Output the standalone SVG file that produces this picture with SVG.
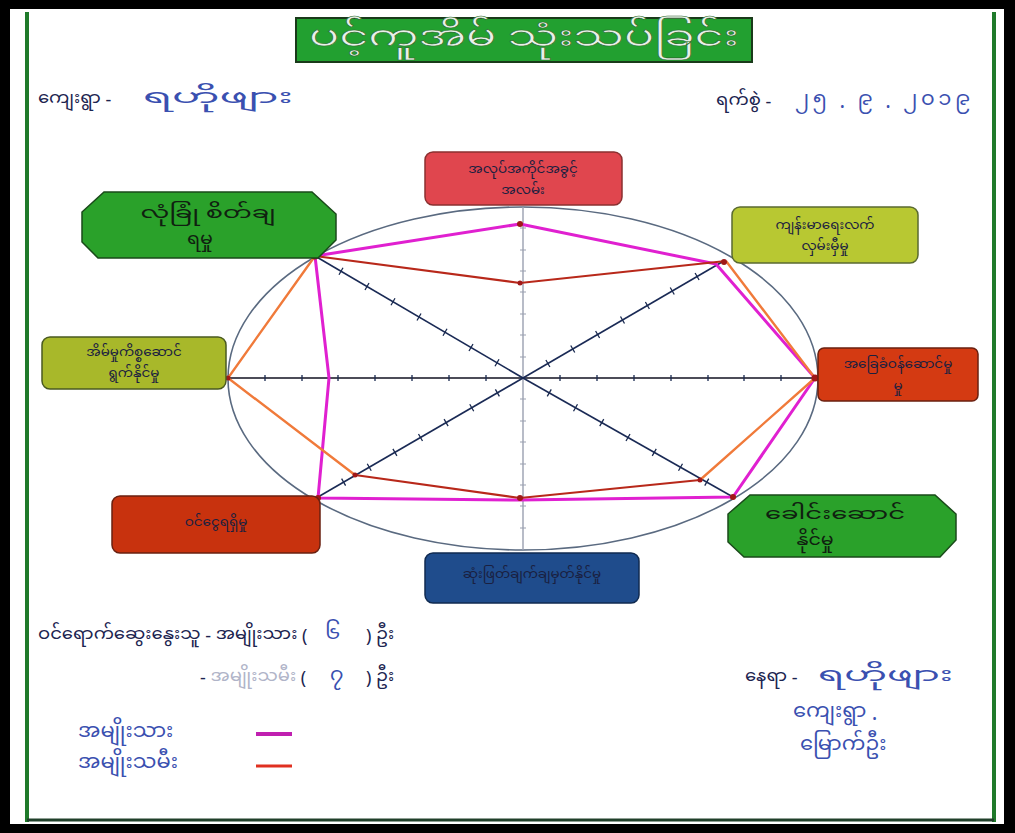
<svg xmlns="http://www.w3.org/2000/svg" width="1015" height="833" viewBox="0 0 1015 833">
<style>
.my{font-family:"Noto Sans Myanmar UI","Noto Sans Myanmar","Padauk","Myanmar Text","Noto Sans","DejaVu Sans",sans-serif}
.lbl{fill:#1a2040;font-size:13.5px;text-anchor:middle}
.big{fill:#102010;font-size:19px;text-anchor:middle}
.hd{fill:#1c2450;font-size:18px}
.hv{fill:#3a50b0;font-size:21px}
.tick{stroke:#1a2a50;stroke-width:1.3;fill:none}
.diag{stroke:#1a2a55;stroke-width:1.6}
.men{stroke:#e020d0;stroke-width:3;fill:none;stroke-linejoin:round}
.wred{stroke:#b8281a;stroke-width:2.2;fill:none}
.wor{stroke:#f07a3a;stroke-width:2.4;fill:none}
.dot{fill:#a01818}
</style>
<rect x="0" y="0" width="1015" height="833" fill="#000"/>
<rect x="10" y="9" width="994" height="815" fill="#fff"/>
<line x1="27" y1="12" x2="27" y2="822" stroke="#1f7a2a" stroke-width="4"/>
<line x1="994" y1="12" x2="994" y2="822" stroke="#1f7a2a" stroke-width="4"/>
<line x1="27" y1="820" x2="994" y2="820" stroke="#20402a" stroke-width="3"/>

<g id="title">
<rect x="296" y="18" width="456" height="44" fill="#22a030" stroke="#1a3a1a" stroke-width="2"/>
<text class="my" x="309" y="51" font-size="32" textLength="430" lengthAdjust="spacingAndGlyphs" fill="#e8f0e8" stroke="#2a6a2a" stroke-width="0.6">ပင့်ကူအိမ် သုံးသပ်ခြင်း</text>
</g>

<g id="header">
<text class="my hd" x="38" y="106">ကျေးရွာ -</text>
<text class="my hv" x="143" y="106" textLength="150" lengthAdjust="spacingAndGlyphs">ရဟိုဖျား</text>
<text class="my hd" x="716" y="108">ရက်စွဲ -</text>
<text class="my hv" x="795" y="108" font-size="23" textLength="175">၂၅ . ၉ . ၂၀၁၉</text>
</g>

<g id="chart-frame">
<ellipse cx="523" cy="378.5" rx="295" ry="171.5" fill="none" stroke="#5a6a80" stroke-width="1.6"/>
<line x1="228" y1="378" x2="818" y2="378" stroke="#101020" stroke-width="1.4"/>
<line x1="523" y1="207" x2="523" y2="550" stroke="#9aa0b0" stroke-width="1.4"/>
<line class="diag" x1="523" y1="378" x2="315" y2="256"/>
<line class="diag" x1="523" y1="378" x2="722" y2="262"/>
<line class="diag" x1="523" y1="378" x2="733" y2="497"/>
<line class="diag" x1="523" y1="378" x2="318" y2="497"/>
<path class="tick" d="M495,366.25L499,359.25M469,351L473,344M443,335.75L447,328.75M417,320.5L421,313.5M391,305.25L395,298.25M365,290L369,283M339,274.75L343,267.75
M545.9,360L549.9,367M570.75,345.5L574.75,352.5M595.6,331L599.6,338M620.5,316.5L624.5,323.5M645.4,302L649.4,309M670.25,287.5L674.25,294.5M695.1,273L699.1,280
M547.25,396.4L551.25,389.4M573.5,411.25L577.5,404.25M599.75,426.1L603.75,419.1M626,441L630,434M652.25,455.9L656.25,448.9M678.5,470.75L682.5,463.75M704.75,485.6L708.75,478.6
M495.4,389.4L499.4,396.4M469.75,404.25L473.75,411.25M444.1,419.1L448.1,426.1M418.5,434L422.5,441M392.9,448.9L396.9,455.9M367.25,463.75L371.25,470.75M341.6,478.6L345.6,485.6
M560,375V381M597,375V381M634,375V381M671,375V381M708,375V381M744,375V381M781,375V381M486,375V381M449,375V381M412,375V381M375,375V381M338,375V381M302,375V381M265,375V381"/>
<path d="M520,357H526M520,335H526M520,314H526M520,292H526M520,271H526M520,250H526M520,228H526M520,399H526M520,421H526M520,442H526M520,464H526M520,485H526M520,506H526M520,528H526" stroke="#9aa0b0" stroke-width="1.2"/>
</g>

<g id="connectors">
<polygon class="men" points="315,256 520,224 716,264 815,378 733,497 520,500 318,498 329,378"/>
<polyline class="wred" points="315,256 520,283 726,261"/>
<polyline class="wor" points="726,261 815,378 700,480"/>
<polyline class="wred" points="700,480 520,498 355,475"/>
<polyline class="wor" points="355,475 228,378 315,256"/>
<circle class="dot" cx="315" cy="256" r="3.5"/>
<circle class="dot" cx="520" cy="224" r="3"/>
<circle class="dot" cx="520" cy="283" r="2.5"/>
<circle class="dot" cx="724" cy="262" r="3"/>
<circle class="dot" cx="815" cy="378" r="3.5"/>
<circle class="dot" cx="733" cy="497" r="3"/>
<circle class="dot" cx="520" cy="498" r="3"/>
<circle class="dot" cx="700" cy="480" r="2.5"/>
<circle class="dot" cx="355" cy="475" r="2.5"/>
<circle class="dot" cx="318" cy="498" r="3"/>
<circle class="dot" cx="228" cy="378" r="2.5"/>
</g>

<g id="node-top">
<rect x="425" y="152" width="197" height="53" rx="8" fill="#e0464e" stroke="#8a3030" stroke-width="1.5"/>
<text class="my lbl" x="523" y="175">အလုပ်အကိုင်အခွင့်</text>
<text class="my lbl" x="523" y="196">အလမ်း</text>
</g>
<g id="node-topright">
<rect x="732" y="207" width="186" height="56" rx="8" fill="#b8c832" stroke="#5a6a30" stroke-width="1.5"/>
<text class="my lbl" x="825" y="231">ကျန်းမာရေးလက်</text>
<text class="my lbl" x="825" y="252">လှမ်းမှီမှု</text>
</g>
<g id="node-topleft">
<polygon points="104,192 312,192 336,214 336,240 318,258 98,258 82,242 82,212" fill="#2aa12a" stroke="#1a4a1a" stroke-width="1.5"/>
<text class="my big" x="208" y="221" textLength="135" lengthAdjust="spacingAndGlyphs">လုံခြုံ စိတ်ချ</text>
<text class="my big" x="200" y="247">ရမှု</text>
</g>
<g id="node-left">
<rect x="42" y="337" width="184" height="52" rx="8" fill="#a8b82a" stroke="#4a5a20" stroke-width="1.5"/>
<text class="my lbl" x="134" y="358">အိမ်မှုကိစ္စဆောင်</text>
<text class="my lbl" x="134" y="379">ရွက်နိုင်မှု</text>
</g>
<g id="node-right">
<rect x="818" y="348" width="160" height="53" rx="6" fill="#d43a12" stroke="#6a2010" stroke-width="1.5"/>
<text class="my lbl" x="898" y="370">အခြေခံဝန်ဆောင်မှု</text>
<text class="my lbl" x="898" y="392">မှု</text>
</g>
<g id="node-bottomleft">
<rect x="112" y="496" width="208" height="57" rx="8" fill="#c8320e" stroke="#6a2010" stroke-width="1.5"/>
<text class="my lbl" x="216" y="528">ဝင်ငွေရရှိမှု</text>
</g>
<g id="node-bottomright">
<polygon points="750,495 935,495 956,514 956,540 940,557 744,557 728,542 728,514" fill="#2aa12a" stroke="#1a4a1a" stroke-width="1.5"/>
<text class="my big" x="835" y="522" textLength="140" lengthAdjust="spacingAndGlyphs">ခေါင်းဆောင်</text>
<text class="my big" x="815" y="548">နိုင်မှု</text>
</g>
<g id="node-bottom">
<rect x="425" y="553" width="214" height="50" rx="8" fill="#1f4c8c" stroke="#102a50" stroke-width="1.5"/>
<text class="my lbl" x="532" y="580">ဆုံးဖြတ်ချက်ချမှတ်နိုင်မှု</text>
</g>

<g id="footer">
<text class="my hd" x="38" y="642">ဝင်ရောက်ဆွေးနွေးသူ - အမျိုးသား (</text>
<text class="my hv" x="325" y="642">၆</text>
<text class="my hd" x="366" y="642" font-size="20">) ဦး</text>
<text class="my hd" x="200" y="684" fill="#9aa0c0">- <tspan fill="#b0b4c8">အမျိုးသမီး</tspan> <tspan fill="#1c2450">(</tspan></text>
<text class="my hv" x="330" y="684">၇</text>
<text class="my hd" x="366" y="684" font-size="20">) ဦး</text>
<text class="my hv" x="78" y="740">အမျိုးသား</text>
<line x1="256" y1="734" x2="292" y2="734" stroke="#c020b0" stroke-width="4"/>
<text class="my hv" x="78" y="771">အမျိုးသမီး</text>
<line x1="256" y1="766" x2="292" y2="766" stroke="#e03020" stroke-width="3"/>
<text class="my hd" x="745" y="684">နေရာ -</text>
<text class="my hv" x="818" y="684" textLength="135" lengthAdjust="spacingAndGlyphs">ရဟိုဖျား</text>
<text class="my hv" x="793" y="720">ကျေးရွာ .</text>
<text class="my hv" x="800" y="753">မြောက်ဦး</text>
</g>
</svg>
